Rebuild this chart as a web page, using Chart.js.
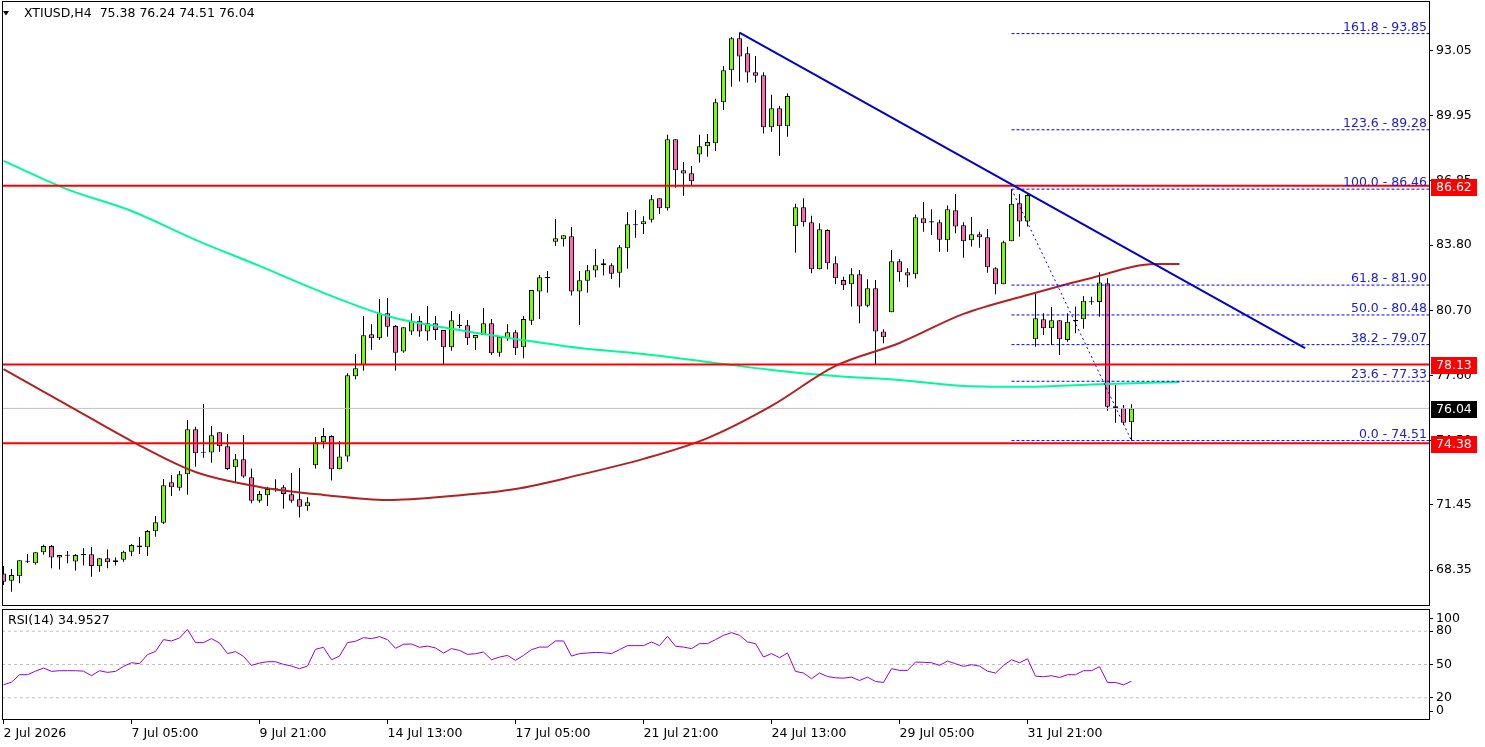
<!DOCTYPE html>
<html>
<head>
<meta charset="utf-8">
<title>XTIUSD H4</title>
<script src="https://cdn.jsdelivr.net/npm/chart.js@4.4.0/dist/chart.umd.min.js"></script>
<style>
  html, body { margin: 0; padding: 0; background: #fff; }
  #wrap { position: relative; width: 1485px; height: 747px; overflow: hidden; background: #fff; }
  #priceChart { position: absolute; left: 0; top: 0; }
  #rsiChart { position: absolute; left: 0; top: 607px; }
</style>
</head>
<body>
<div id="wrap">
  <canvas id="priceChart" width="1485" height="607"></canvas>
  <canvas id="rsiChart" width="1485" height="140"></canvas>
</div>
<script>
// XTIUSD H4 - candles, medias, linhas e RSI(14)

const BULL = '#7CFC00';
const BEAR = '#FF69B4';
const X_MIN = -0.1875;
const X_MAX = 178.1875;

const openP = [
  68.20, 67.85, 68.06, 68.77, 68.68, 69.20, 69.50, 68.96, 69.06, 68.77,
  69.09, 69.11, 68.54, 68.92, 68.73, 68.85, 69.23, 69.53, 69.44, 70.20,
  70.61, 72.53, 72.27, 72.91, 75.05, 73.95, 73.94, 74.91, 74.24, 73.24,
  73.62, 72.77, 71.65, 71.91, 72.22, 72.29, 71.96, 71.72, 71.39, 73.34,
  74.43, 74.73, 73.15, 73.76, 77.57, 78.10, 79.56, 79.37, 80.56, 79.96,
  78.74, 79.69, 80.21, 79.69, 80.09, 79.77, 78.95, 79.97, 79.99, 79.37,
  79.53, 80.09, 78.69, 79.37, 79.66, 78.95, 80.21, 81.59, 82.25, 83.96,
  84.08, 84.22, 81.59, 82.11, 82.59, 82.94, 82.84, 82.49, 83.65, 84.76,
  84.79, 85.01, 86.03, 85.55, 88.83, 87.36, 87.22, 88.10, 88.50, 88.64,
  90.59, 92.11, 93.63, 92.92, 92.02, 91.87, 89.40, 90.30, 89.45, 84.70,
  85.60, 84.89, 82.65, 84.52, 82.94, 82.14, 81.94, 82.41, 80.92, 81.75,
  79.69, 80.61, 83.03, 82.51, 82.41, 85.08, 84.90, 84.89, 84.03, 85.46,
  84.74, 84.03, 84.32, 84.17, 82.70, 81.94, 83.98, 85.79, 84.92, 79.33,
  80.28, 79.85, 80.23, 79.29, 80.21, 80.28, 81.10, 81.10, 81.99, 76.14,
  76.05, 75.38
];
const highP = [
  68.55, 68.41, 68.82, 69.12, 69.20, 69.56, 69.55, 69.07, 69.26, 69.12,
  69.39, 69.45, 68.93, 69.34, 68.96, 69.28, 69.60, 69.93, 70.26, 70.93,
  72.69, 72.88, 73.07, 75.49, 75.17, 76.25, 75.20, 74.91, 74.82, 73.87,
  74.78, 73.19, 72.12, 72.32, 72.67, 72.40, 72.97, 73.21, 71.82, 74.68,
  75.11, 74.76, 74.49, 77.71, 78.63, 80.43, 80.04, 81.24, 81.29, 80.00,
  79.90, 80.56, 80.43, 80.91, 80.43, 79.77, 80.67, 80.53, 80.24, 79.53,
  80.81, 80.29, 79.45, 80.04, 79.77, 80.43, 81.67, 82.38, 82.57, 85.04,
  84.27, 84.66, 82.57, 82.86, 83.62, 83.14, 82.94, 83.81, 85.36, 85.47,
  85.17, 86.18, 86.03, 89.04, 88.83, 87.75, 87.56, 89.04, 89.08, 90.75,
  92.31, 93.69, 93.90, 93.22, 92.79, 92.02, 90.94, 90.41, 91.02, 85.76,
  86.03, 85.19, 84.84, 84.55, 83.27, 82.30, 82.70, 82.62, 82.18, 82.14,
  79.80, 83.57, 83.14, 82.70, 85.25, 85.85, 85.50, 85.00, 85.68, 86.23,
  84.89, 85.14, 84.44, 84.57, 82.75, 84.01, 86.46, 86.23, 86.26, 81.48,
  80.56, 80.86, 80.23, 80.56, 80.88, 81.38, 81.35, 82.51, 82.22, 77.15,
  76.20, 76.24
];
const lowP = [
  67.65, 67.33, 67.73, 68.69, 68.61, 69.09, 68.44, 68.39, 68.68, 68.33,
  68.57, 68.04, 68.28, 68.44, 68.57, 68.75, 69.01, 69.12, 69.03, 69.94,
  70.55, 71.88, 72.13, 71.94, 73.27, 73.70, 73.46, 73.98, 73.11, 72.56,
  72.75, 71.53, 71.56, 71.40, 72.08, 71.27, 71.56, 70.85, 71.18, 73.18,
  74.13, 72.61, 73.15, 73.51, 77.42, 77.83, 78.83, 79.29, 79.45, 77.83,
  78.69, 79.53, 79.45, 79.25, 79.29, 78.15, 78.78, 79.85, 79.05, 78.82,
  79.53, 78.58, 78.50, 79.25, 78.58, 78.42, 80.00, 80.29, 81.54, 83.76,
  83.73, 81.40, 80.00, 81.54, 82.27, 82.35, 82.19, 81.78, 82.68, 84.15,
  84.33, 84.87, 85.28, 85.44, 86.53, 86.15, 86.66, 87.72, 88.00, 88.27,
  90.22, 91.33, 91.57, 91.52, 91.52, 89.10, 89.19, 88.05, 88.95, 83.44,
  84.68, 82.46, 82.65, 82.65, 81.94, 81.67, 80.88, 80.09, 80.85, 78.14,
  79.14, 80.61, 82.06, 81.80, 82.21, 84.44, 84.28, 83.49, 83.49, 84.36,
  83.20, 83.73, 83.68, 82.49, 81.46, 81.94, 83.98, 84.20, 84.68, 78.97,
  79.53, 79.05, 78.58, 79.21, 79.61, 79.82, 80.96, 80.40, 75.93, 75.36,
  75.25, 74.51
];
const closeP = [
  67.80, 68.12, 68.82, 68.78, 69.20, 69.50, 68.96, 69.07, 69.07, 69.07,
  69.10, 68.55, 68.92, 68.73, 68.82, 69.23, 69.55, 69.44, 70.21, 70.63,
  72.39, 72.29, 72.91, 75.05, 73.91, 73.96, 74.76, 74.24, 73.16, 73.62,
  72.80, 71.65, 71.97, 72.21, 72.23, 71.97, 71.65, 71.37, 71.58, 74.43,
  74.73, 73.15, 73.76, 77.61, 77.95, 79.52, 79.37, 80.56, 79.92, 78.69,
  79.90, 80.18, 79.69, 80.09, 79.77, 78.95, 80.23, 79.98, 79.37, 79.53,
  80.09, 78.66, 79.45, 79.66, 78.90, 80.29, 81.67, 82.27, 82.26, 84.13,
  84.27, 81.59, 82.13, 82.60, 82.84, 82.84, 82.44, 83.70, 84.79, 84.77,
  84.93, 85.98, 85.55, 88.83, 87.36, 87.20, 86.84, 88.50, 88.70, 90.59,
  92.11, 93.63, 92.76, 92.00, 91.85, 89.40, 90.30, 89.45, 90.89, 85.60,
  84.89, 82.65, 84.55, 82.94, 82.22, 81.89, 82.41, 80.88, 81.75, 79.69,
  79.42, 83.03, 82.51, 82.35, 85.12, 84.84, 84.91, 84.05, 85.50, 84.68,
  83.98, 84.32, 84.17, 82.75, 81.94, 83.94, 85.76, 84.92, 86.18, 80.32,
  79.85, 80.23, 79.33, 80.16, 80.22, 81.16, 81.11, 82.02, 76.12, 76.05,
  75.36, 76.04
];

const rsiVals = [
  31.7, 34.1, 40.8, 40.8, 44.0, 46.8, 43.8, 44.4, 44.4, 44.4,
  44.0, 39.9, 44.4, 42.9, 43.8, 48.3, 51.6, 50.7, 58.9, 61.8,
  72.4, 71.2, 73.9, 81.5, 69.7, 69.7, 73.3, 69.4, 59.8, 61.6,
  57.3, 49.2, 51.3, 52.5, 52.5, 50.1, 48.6, 46.2, 48.6, 63.7,
  65.5, 54.3, 57.6, 69.7, 70.9, 74.2, 73.3, 75.1, 72.4, 64.6,
  68.2, 68.5, 65.5, 66.6, 64.9, 60.3, 64.3, 62.7, 59.1, 59.7,
  61.2, 54.3, 56.7, 58.2, 53.7, 58.2, 63.4, 65.7, 65.7, 71.2,
  71.2, 57.6, 59.8, 60.4, 60.9, 60.6, 59.8, 63.4, 67.0, 67.0,
  67.0, 70.3, 67.0, 75.4, 66.4, 65.7, 64.3, 68.8, 68.8, 72.4,
  76.3, 78.7, 76.3, 70.3, 68.8, 56.7, 59.8, 56.1, 60.4, 43.8,
  42.3, 37.2, 42.3, 39.2, 38.0, 37.7, 38.6, 35.6, 38.6, 34.7,
  33.8, 46.2, 44.7, 44.7, 52.2, 52.0, 51.6, 49.2, 53.1, 50.7,
  48.3, 49.8, 48.6, 44.0, 42.3, 49.2, 54.3, 51.6, 55.2, 39.5,
  39.0, 39.9, 38.3, 40.8, 40.8, 44.4, 44.4, 48.0, 33.8, 33.8,
  31.7, 34.9527
];

// medias moveis (deslocadas 6 barras), lidas a cada 8 barras
const ma200X = [0, 8, 16, 24, 32, 40, 48, 56, 64, 72, 80, 88, 96, 104, 112, 120, 128, 136, 147];
const ma200Y = [87.80, 86.45, 85.42, 84.05, 82.81, 81.53, 80.43, 79.82, 79.34, 78.91,
                78.63, 78.25, 77.87, 77.58, 77.39, 77.11, 77.07, 77.18, 77.30];
const ma100X = [0, 8, 16, 24, 32, 40, 48, 56, 64, 72, 80, 88, 96, 104, 112, 120, 128, 136, 144, 147];
const ma100Y = [77.91, 76.20, 74.49, 73.02, 72.31, 71.93, 71.69, 71.88, 72.21, 72.88,
                73.64, 74.63, 76.16, 78.06, 79.15, 80.53, 81.43, 82.24, 82.90, 82.90];

const levelLines = [86.62, 78.13, 74.38];
const lastPrice = 76.04;
const trendX = [92, 162.7];
const trendY = [93.90, 78.90];

const fibRatios = ['0.0', '23.6', '38.2', '50.0', '61.8', '100.0', '123.6', '161.8'];
const fibPrices = [74.51, 77.33, 79.07, 80.48, 81.90, 86.46, 89.28, 93.85];
const fibFromX = 126;
const fibSwingX = [126, 141];
const fibSwingY = [86.46, 74.51];

const priceTicks = [68.35, 71.45, 74.50, 77.60, 80.70, 83.80, 86.85, 89.95, 93.05];
const rsiTicks = [8, 20, 50, 80, 91];
const rsiTickLabels = ['0', '20', '50', '80', '100'];
const rsiLevels = [20, 50, 80];
const timeTickX = [0, 16, 32, 48, 64, 80, 96, 112, 128];
const timeLabels = ['2 Jul 2026', '7 Jul 05:00', '9 Jul 21:00', '14 Jul 13:00', '17 Jul 05:00',
                    '21 Jul 21:00', '24 Jul 13:00', '29 Jul 05:00', '31 Jul 21:00'];

const FONT = "'DejaVu Sans', Verdana, sans-serif";
Chart.defaults.font.family = FONT;
Chart.defaults.font.size = 12.5;
Chart.defaults.color = '#000';

// corpos e pavios
const wickData = highP.map((h, i) => ({ x: i, y: [lowP[i], h] }));
const bodyData = openP.map((o, i) => {
    const c = closeP[i];
    if (Math.abs(c - o) < 0.06) {
        const m = (o + c) / 2;
        return { x: i, y: [m - 0.025, m + 0.025] };
    }
    return { x: i, y: [o, c] };
});
const bodyColors = openP.map((o, i) => {
    const c = closeP[i];
    if (Math.abs(c - o) < 0.06) return '#000';
    return c > o ? BULL : BEAR;
});

function hLine(y, color, width, dash, order, fromX) {
    return {
        type: 'line',
        data: [{ x: fromX === undefined ? X_MIN : fromX, y: y }, { x: X_MAX, y: y }],
        borderColor: color,
        borderWidth: width,
        borderDash: dash || [],
        pointRadius: 0,
        tension: 0,
        order: order
    };
}

const priceDatasets = [
    {
        type: 'bar', data: wickData, backgroundColor: '#000', borderWidth: 0,
        barThickness: 1, grouped: false, inflateAmount: 0, order: 20
    },
    {
        type: 'bar', data: bodyData, backgroundColor: bodyColors, borderColor: '#000',
        borderWidth: 1, borderSkipped: false, barThickness: 5, grouped: false,
        inflateAmount: 0, order: 19
    },
    {
        type: 'line', data: ma200X.map((x, i) => ({ x: x, y: ma200Y[i] })),
        borderColor: '#00FA9A', borderWidth: 2, pointRadius: 0,
        cubicInterpolationMode: 'monotone', order: 10
    },
    {
        type: 'line', data: ma100X.map((x, i) => ({ x: x, y: ma100Y[i] })),
        borderColor: '#B22222', borderWidth: 2, pointRadius: 0,
        cubicInterpolationMode: 'monotone', order: 9
    },
    hLine(lastPrice, '#C0C0C0', 1, [], 15)
];
levelLines.forEach(v => priceDatasets.push(hLine(v, '#FF0000', 2, [], 3)));
fibPrices.forEach(v => priceDatasets.push(hLine(v, '#0000FF', 1, [3, 2], 4, fibFromX)));
priceDatasets.push({
    type: 'line', data: fibSwingX.map((x, i) => ({ x: x, y: fibSwingY[i] })),
    borderColor: '#0000FF', borderWidth: 1, borderDash: [2, 3], pointRadius: 0, order: 4
});
priceDatasets.push({
    type: 'line', data: trendX.map((x, i) => ({ x: x, y: trendY[i] })),
    borderColor: '#0000CD', borderWidth: 2, pointRadius: 0, order: 2
});

// moldura do painel
const paneFrame = {
    id: 'paneFrame',
    afterDraw(chart) {
        const { ctx, chartArea: a } = chart;
        ctx.save();
        ctx.strokeStyle = '#000';
        ctx.lineWidth = 1;
        ctx.strokeRect(a.left + 0.5, a.top + 0.5, a.right - a.left, a.bottom - a.top - 1);
        ctx.restore();
    }
};

// rotulos fibo, caixas de preco e titulo
const priceOverlay = {
    id: 'priceOverlay',
    afterDraw(chart) {
        const { ctx, chartArea: a } = chart;
        const ys = chart.scales.y;
        ctx.save();
        ctx.font = '12.5px ' + FONT;

        ctx.fillStyle = '#2020C8';
        ctx.textAlign = 'right';
        ctx.textBaseline = 'alphabetic';
        fibPrices.forEach((p, i) => {
            const y = ys.getPixelForValue(p);
            ctx.fillText(fibRatios[i] + ' - ' + p.toFixed(2), a.right - 2, y - 3);
        });

        ctx.textAlign = 'left';
        ctx.textBaseline = 'middle';
        const boxes = levelLines.map(v => ({ v: v, bg: '#FF0000' }));
        boxes.push({ v: lastPrice, bg: '#000' });
        boxes.forEach(b => {
            const y = Math.round(ys.getPixelForValue(b.v));
            ctx.fillStyle = b.bg;
            ctx.fillRect(a.right + 2, y - 7, 46, 17);
            ctx.fillStyle = '#fff';
            ctx.fillText(b.v.toFixed(2), a.right + 7, y + 1.5);
        });

        ctx.fillStyle = '#000';
        ctx.beginPath();
        ctx.moveTo(3, 11);
        ctx.lineTo(9, 11);
        ctx.lineTo(6, 15.5);
        ctx.closePath();
        ctx.fill();
        ctx.fillText('XTIUSD,H4  75.38 76.24 74.51 76.04', 24, 14);
        ctx.restore();
    }
};

new Chart(document.getElementById('priceChart'), {
    type: 'bar',
    data: { datasets: priceDatasets },
    options: {
        responsive: false,
        animation: false,
        events: [],
        layout: { padding: { left: 2, top: 1, right: 0, bottom: 1 } },
        plugins: { legend: { display: false }, tooltip: { enabled: false } },
        scales: {
            x: {
                type: 'linear', display: false, min: X_MIN, max: X_MAX,
                offset: false, grid: { offset: false }
            },
            y: {
                type: 'linear', position: 'right', min: 66.65, max: 95.40,
                beginAtZero: false,
                afterBuildTicks: (s) => { s.ticks = priceTicks.map(v => ({ value: v })); },
                afterFit: (s) => { s.width = 56; s.paddingTop = 0; s.paddingBottom = 0; },
                ticks: { callback: (v) => Number(v).toFixed(2), padding: 3, color: '#000' },
                grid: { drawOnChartArea: false, drawTicks: true, tickLength: 4, color: '#000' },
                border: { display: false }
            }
        }
    },
    plugins: [paneFrame, priceOverlay]
});

// RSI
const rsiDatasets = [
    {
        data: rsiVals.map((v, i) => ({ x: i, y: v })),
        borderColor: '#9400D3', borderWidth: 1, pointRadius: 0, tension: 0, order: 1
    }
];
rsiLevels.forEach(v => rsiDatasets.push(hLine(v, '#C0C0C0', 1, [3, 3], 5)));

const rsiOverlay = {
    id: 'rsiOverlay',
    afterDraw(chart) {
        const { ctx } = chart;
        ctx.save();
        ctx.font = '12.5px ' + FONT;
        ctx.fillStyle = '#000';
        ctx.textAlign = 'left';
        ctx.textBaseline = 'middle';
        ctx.fillText('RSI(14) ' + rsiVals[rsiVals.length - 1].toFixed(4), 8, 14);
        ctx.restore();
    }
};

new Chart(document.getElementById('rsiChart'), {
    type: 'line',
    data: { datasets: rsiDatasets },
    options: {
        responsive: false,
        animation: false,
        events: [],
        layout: { padding: { left: 2, top: 2, right: 0, bottom: 0 } },
        plugins: { legend: { display: false }, tooltip: { enabled: false } },
        scales: {
            x: {
                type: 'linear', min: X_MIN, max: X_MAX, offset: false,
                afterBuildTicks: (s) => { s.ticks = timeTickX.map(v => ({ value: v })); },
                afterFit: (s) => { s.height = 27; s.paddingLeft = 0; s.paddingRight = 0; },
                ticks: {
                    callback: (v, i) => timeLabels[i], align: 'start', autoSkip: false,
                    maxRotation: 0, padding: 2, color: '#000'
                },
                grid: { drawOnChartArea: false, drawTicks: true, tickLength: 4, color: '#000' },
                border: { display: false }
            },
            y: {
                type: 'linear', position: 'right', min: 0, max: 100,
                afterBuildTicks: (s) => { s.ticks = rsiTicks.map(v => ({ value: v })); },
                afterFit: (s) => { s.width = 56; s.paddingTop = 0; s.paddingBottom = 0; },
                ticks: { callback: (v, i) => rsiTickLabels[i], padding: 3, color: '#000' },
                grid: { drawOnChartArea: false, drawTicks: true, tickLength: 4, color: '#000' },
                border: { display: false }
            }
        }
    },
    plugins: [paneFrame, rsiOverlay]
});
</script>
</body>
</html>
